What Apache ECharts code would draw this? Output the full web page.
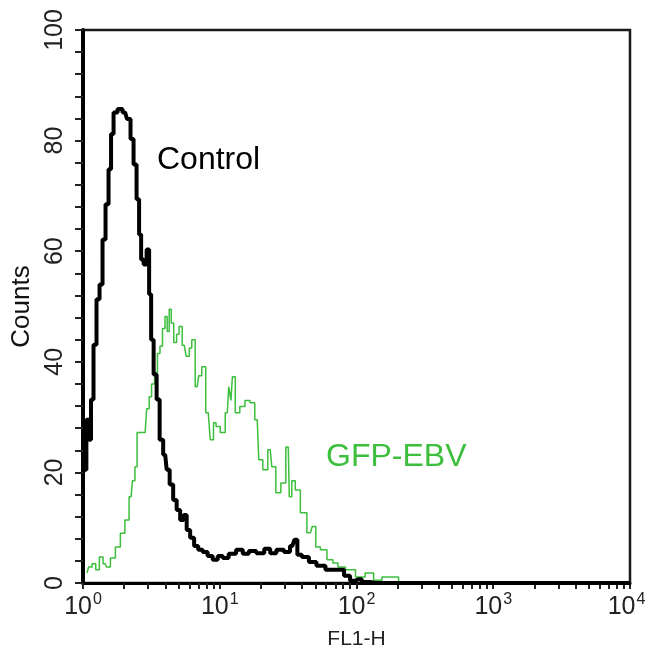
<!DOCTYPE html>
<html>
<head>
<meta charset="utf-8">
<script src="https://cdn.jsdelivr.net/npm/echarts@6/dist/echarts.min.js"></script>
<style>
  html, body { margin: 0; padding: 0; background: #fff; }
  #main { width: 647px; height: 649px; }
</style>
</head>
<body>
<div id="main"></div>
<script>
// FL1-H values (log axis) and counts
var ctrlX = [1.0, 1.03, 1.088, 1.125, 1.164, 1.224, 1.288, 1.355, 1.425, 1.499,
  1.577, 1.631, 1.716, 1.866, 2.03, 2.17, 2.284, 2.403, 2.528, 2.616,
  2.707, 2.846, 2.993, 3.097, 3.203, 3.369, 3.543, 3.728, 3.99, 4.195,
  4.413, 4.72, 4.966, 5.31, 5.59, 5.877, 6.28, 6.72, 7.2, 7.82,
  8.51, 9.26, 10.1, 10.97, 12.3, 14.1, 15.4, 17.3, 19.8, 22.6,
  24.2, 27.8, 31.3, 34.0, 36.3, 37.6, 42.3, 47.6, 54.5, 64.5,
  76.4, 86.1, 93.5, 103, 116, 137, 10000];
var ctrlY = [20, 20.5, 29.5, 25.9, 33.2, 43.1, 51.3, 54, 62.1, 68.5,
  74.8, 81.2, 85.1, 85.7, 85.1, 83.9, 80.3, 75.7, 69.4, 63,
  58.5, 57.6, 60.3, 52.2, 44, 37.7, 33.2, 25.9, 23.2, 20.5,
  17.8, 15, 13.2, 11.4, 12.3, 9.6, 8.2, 6.7, 6, 5.6,
  4.9, 4.2, 4.9, 4.5, 5.3, 6, 5.3, 5.8, 5.4, 6.2,
  5.4, 6, 5.6, 6.7, 7.8, 5.1, 4.7, 3.8, 3.1, 2.4,
  2.4, 1.3, 0.4, 0.7, 0.2, 0, 0];

var gfpX = [1.07, 1.13, 1.2, 1.28, 1.355, 1.45, 1.525, 1.65, 1.805, 1.95,
  2.10, 2.247, 2.35, 2.445, 2.528, 2.846, 3.0, 3.097, 3.25, 3.426,
  3.58, 3.728, 3.9, 4.056, 4.2, 4.34, 4.5, 4.72, 4.95, 5.135,
  5.5, 5.877, 6.1, 6.396, 6.842, 7.2, 7.57, 8.24, 8.81, 9.2,
  9.59, 10.6, 11.35, 11.94, 12.2, 12.55, 13.44, 14.62, 16.0, 17.3,
  18.8, 19.8, 21.55, 23.4, 24.66, 26.8, 29.2, 31.7, 32.8, 34.5,
  36.9, 40.9, 46, 49, 51.8, 57.3, 64.5, 70, 76.4, 90.4,
  107, 125, 142.5, 165, 186.7, 221, 240];
var gfpY = [1.8, 2.9, 3.5, 2.4, 4.7, 3.5, 2.9, 4.5, 6.5, 9,
  11.4, 15.6, 18.5, 21, 27.2, 27.2, 31.5, 33.7, 36, 38,
  41.5, 42.8, 46, 48.2, 45.5, 49.5, 47, 43.5, 45, 46.4,
  43, 41, 42.5, 44, 35.5, 37.5, 39.1, 30.8, 25.9, 29,
  28.3, 27.2, 30.8, 35.5, 33, 37.3, 30.8, 31.9, 33, 32.6,
  29.5, 22.3, 20.5, 24.1, 21, 16.3, 18.1, 24.6, 15.6, 18.5,
  16.8, 12.7, 9.1, 10.2, 6.5, 6, 4.2, 3.6, 2.9, 2.4,
  1.1, 1.8, 0.5, 1.1, 1.1, 0.2, 0];

var decades = [1, 10, 100, 1000, 10000];
var xTicks = [];
for (var d = 1; d <= 1000; d *= 10) {
  for (var k = 1; k <= 9; k++) xTicks.push(k * d);
}
xTicks.push(10000);

function pairs(xs, ys) {
  return xs.map(function (x, i) { return [x, ys[i]]; });
}

var font = 'Liberation Sans, Arial, sans-serif';
var green = '#3dbf3d';

var chart = echarts.init(document.getElementById('main'));
chart.setOption({
  animation: false,
  backgroundColor: '#fff',
  textStyle: { fontFamily: font },
  grid: {
    left: 83, right: 17, top: 30, bottom: 66, outerBoundsMode: 'none',
    show: true, borderColor: '#1a1a1a', borderWidth: 2.5
  },
  xAxis: {
    type: 'log', logBase: 10, min: 1, max: 10000,
    name: 'FL1-H', nameLocation: 'middle', nameGap: 46,
    nameTextStyle: { fontSize: 21, color: '#222', fontFamily: font },
    axisLine: { lineStyle: { color: '#000', width: 3 } },
    axisTick: { inside: false, length: 6, customValues: xTicks, lineStyle: { color: '#222', width: 2 } },
    axisLabel: {
      customValues: decades, margin: 9, color: '#222',
      formatter: function (v) {
        var p = Math.round(Math.log10(v));
        // last label is nudged left so it stays inside the canvas
        return '{a|10}{' + (p === 4 ? 'e' : 'b') + '|' + p + '}';
      },
      rich: {
        a: { fontSize: 25, fontFamily: font, color: '#222' },
        b: { fontSize: 16, fontFamily: font, color: '#222', padding: [0, 0, 15, 1] },
        e: { fontSize: 16, fontFamily: font, color: '#222', padding: [0, 7, 15, 1] }
      }
    },
    splitLine: { show: false }
  },
  yAxis: {
    type: 'value', min: 0, max: 100, interval: 20,
    name: 'Counts', nameLocation: 'middle', nameGap: 45,
    nameTextStyle: { fontSize: 26, color: '#111', fontFamily: font },
    axisLine: { lineStyle: { color: '#000', width: 4 } },
    axisTick: { inside: false, length: 8, lineStyle: { color: '#222', width: 2 } },
    minorTick: { show: true, splitNumber: 5, length: 8, lineStyle: { color: '#222', width: 2 } },
    axisLabel: { rotate: 90, fontSize: 25, margin: 15, color: '#222' },
    splitLine: { show: false }
  },
  graphic: [
    { type: 'text', left: 157, top: 144, style: { text: 'Control', fontSize: 32, fontFamily: font, fill: '#000' } },
    { type: 'text', left: 326, top: 441, style: { text: 'GFP-EBV', fontSize: 32, fontFamily: font, fill: green } }
  ],
  series: [
    {
      name: 'GFP-EBV', type: 'line', step: 'middle', symbol: 'none',
      lineStyle: { color: green, width: 1.5 },
      data: pairs(gfpX, gfpY)
    },
    {
      name: 'Control', type: 'line', step: 'middle', symbol: 'none',
      lineStyle: { color: '#000', width: 4 },
      data: pairs(ctrlX, ctrlY)
    }
  ]
});
</script>
</body>
</html>
